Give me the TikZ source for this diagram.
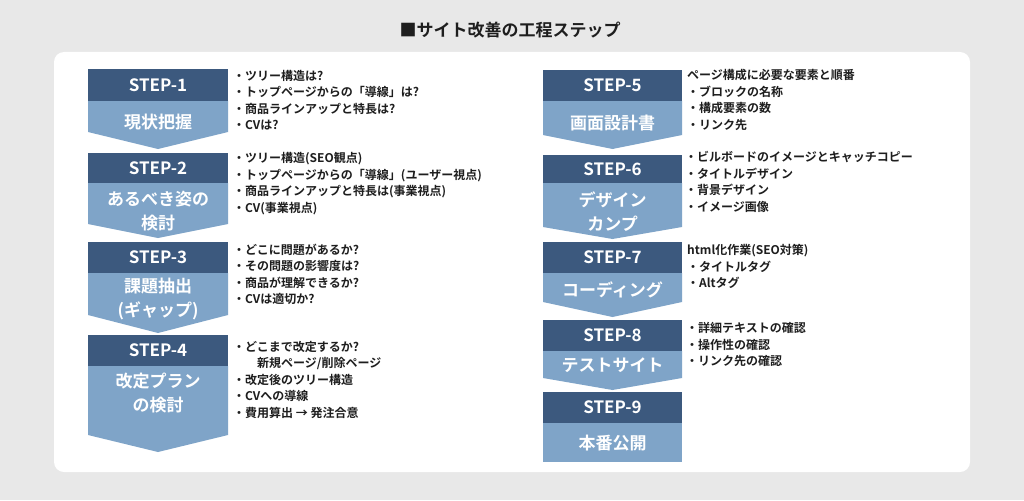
\documentclass[tikz,border=0pt]{standalone}
\usepackage{fontspec}
\setmainfont{Noto Sans CJK JP}[BoldFont={Noto Sans CJK JP Bold}]
\definecolor{bggray}{RGB}{232,232,232}
\definecolor{hdrblue}{RGB}{60,89,126}
\definecolor{bodyblue}{RGB}{127,164,200}
\definecolor{txtdark}{RGB}{30,30,30}
\newcommand\stepshape[7]{%
  % #1 x1, #2 x2, #3 top, #4 dark bottom, #5 side bottom, #6 tip, #7 name
  \fill[bodyblue] (#1,#4) -- (#2,#4) -- (#2,#5) -- ({(#1+#2)/2},#6) -- (#1,#5) -- cycle;
  \fill[hdrblue] (#1,#3) rectangle (#2,#4);
  \coordinate (#7h) at ({(#1+#2)/2},{(#3+#4)/2});
}
\begin{document}
\begin{tikzpicture}[x=1pt,y=-1pt,
  steplabel/.style={text=white,font=\bfseries\fontsize{17}{20}\selectfont,inner sep=0pt},
  bodylabel/.style={text=white,font=\bfseries\fontsize{17}{24}\selectfont,inner sep=0pt,align=center},
  notes/.style={text=txtdark,font=\bfseries\fontsize{12}{16.5}\selectfont,inner sep=0pt,align=left,anchor=west},
  titlestyle/.style={text=txtdark,font=\bfseries\fontsize{17}{20}\selectfont,inner sep=0pt}]
\useasboundingbox (0,0) rectangle (1024,500);
\fill[bggray] (0,0) rectangle (1024,500);
\fill[white,rounded corners=10pt] (54,52) rectangle (970,472);
\node[titlestyle] (title) at (510,30) {■サイト改善の工程ステップ};

% left column
\stepshape{88}{228}{69}{101}{132}{149}{s1}
\stepshape{88}{228}{153}{183}{224}{238}{s2}
\stepshape{88}{228}{242}{273}{315}{333}{s3}
\stepshape{88}{228}{335}{366}{435}{452}{s4}
% right column
\stepshape{543}{682}{70}{101}{135}{149}{s5}
\stepshape{543}{682}{155}{183}{227}{239}{s6}
\stepshape{543}{682}{242}{273}{302}{317}{s7}
\stepshape{543}{682}{320}{351}{378}{390}{s8}
\fill[bodyblue] (543,423) rectangle (682,462);
\fill[hdrblue] (543,392) rectangle (682,423);
\coordinate (s9h) at (612.5,407.5);

\node[steplabel] (st1) at (s1h) {STEP-1};
\node[steplabel] (st2) at (s2h) {STEP-2};
\node[steplabel] (st3) at (s3h) {STEP-3};
\node[steplabel] (st4) at (s4h) {STEP-4};
\node[steplabel] (st5) at (s5h) {STEP-5};
\node[steplabel] (st6) at (s6h) {STEP-6};
\node[steplabel] (st7) at (s7h) {STEP-7};
\node[steplabel] (st8) at (s8h) {STEP-8};
\node[steplabel] (st9) at (s9h) {STEP-9};

\node[bodylabel] (b1) at (158,122) {現状把握};
\node[bodylabel] (b2) at (158,211.5) {あるべき姿の\\検討};
\node[bodylabel] (b3) at (158,299) {課題抽出\\(ギャップ)};
\node[bodylabel] (b4) at (158,393) {改定プラン\\の検討};
\node[bodylabel] (b5) at (612.5,123) {画面設計書};
\node[bodylabel] (b6) at (612.5,211.5) {デザイン\\カンプ};
\node[bodylabel] (b7) at (612.5,290) {コーディング};
\node[bodylabel] (b8) at (612.5,365) {テストサイト};
\node[bodylabel] (b9) at (612.5,443) {本番公開};

\node[notes] (t1) at (233,100) {・ツリー構造は?\\・トップページからの「導線」は?\\・商品ラインアップと特長は?\\・CVは?};
\node[notes] (t2) at (233,183.5) {・ツリー構造(SEO観点)\\・トップページからの「導線」(ユーザー視点)\\・商品ラインアップと特長は(事業視点)\\・CV(事業視点)};
\node[notes] (t3) at (233,274.5) {・どこに問題があるか?\\・その問題の影響度は?\\・商品が理解できるか?\\・CVは適切か?};
\node[notes] (t4) at (233,379.5) {・どこまで改定するか?\\\hspace*{2em}新規ページ/削除ページ\\・改定後のツリー構造\\・CVへの導線\\・費用算出 → 発注合意};
\node[notes] (t5) at (687,100) {ページ構成に必要な要素と順番\\・ブロックの名称\\・構成要素の数\\・リンク先};
\node[notes] (t6) at (685,182) {・ビルボードのイメージとキャッチコピー\\・タイトルデザイン\\・背景デザイン\\・イメージ画像};
\node[notes] (t7) at (687,266.5) {html化作業(SEO対策)\\・タイトルタグ\\・Altタグ};
\node[notes] (t8) at (686,344.5) {・詳細テキストの確認\\・操作性の確認\\・リンク先の確認};
\end{tikzpicture}
\end{document}
